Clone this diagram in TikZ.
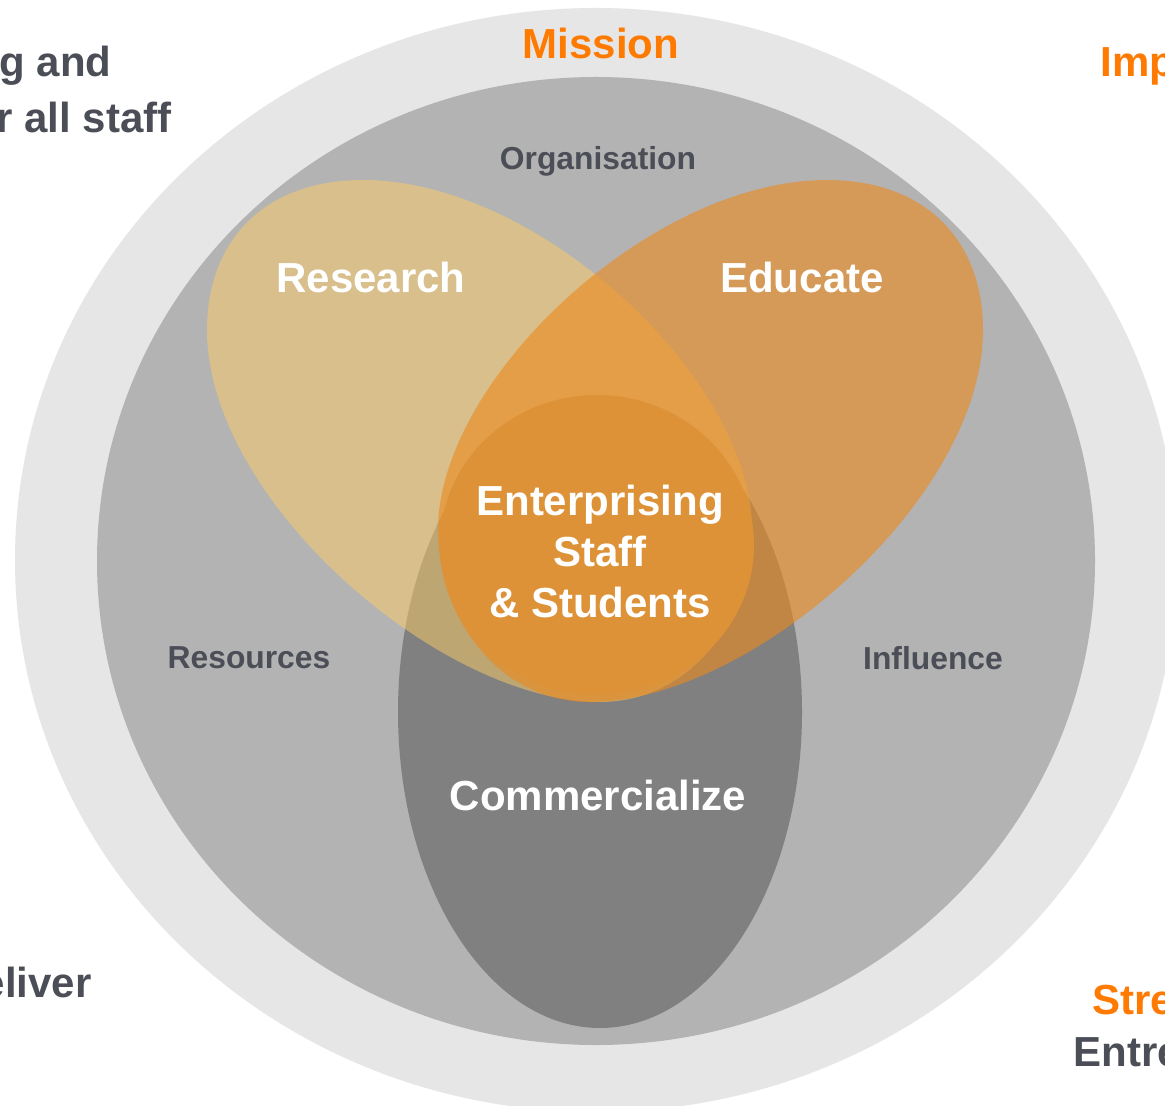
\documentclass[tikz,border=0pt]{standalone}
\usepackage{fontspec}
\setmainfont{Liberation Sans}
\definecolor{ring_outer}{HTML}{E6E6E6}
\definecolor{ring_mid}{HTML}{B3B3B3}
\definecolor{comm_gray}{HTML}{808080}
\definecolor{res_tan}{HTML}{FDCC66}
\definecolor{edu_orange}{HTML}{ED891C}
\definecolor{core_orange}{HTML}{DD9238}
\definecolor{txt_orange}{HTML}{FF7A00}
\definecolor{txt_gray}{HTML}{4B4E56}

\begin{document}
\begin{tikzpicture}[x=0.5pt,y=-0.5pt]
  \tikzstyle{big_lbl}   = [font=\fontsize{21}{25.5}\selectfont\bfseries, text=white, inner sep=0pt, align=center]
  \tikzstyle{small_lbl} = [font=\fontsize{15.9}{19}\selectfont\bfseries, text=txt_gray, inner sep=0pt]
  \tikzstyle{side_lbl}  = [font=\fontsize{21}{25.5}\selectfont\bfseries, inner sep=0pt]
  \tikzstyle{res_leaf}  = [fill=res_tan, fill opacity=0.5]
  \tikzstyle{edu_leaf}  = [fill=edu_orange, fill opacity=0.6]

  \useasboundingbox (0,0) rectangle (1165,1106);

  \fill[white] (0,0) rectangle (1165,1106);
  \fill[ring_outer] (596,560) ellipse [x radius=581, y radius=552];
  \fill[ring_mid]   (596,561) ellipse [x radius=499, y radius=484];
  \fill[comm_gray]  (600,712) ellipse [x radius=202, y radius=316];

  \path[res_leaf] (363,180) .. controls (265,180) and (207,240) .. (207,330)
    .. controls (207,500) and (440,702) .. (600,702)
    .. controls (690,702) and (752,620) .. (752,530)
    .. controls (752,380) and (540,180) .. (363,180) -- cycle;

  \path[edu_leaf] (827,180) .. controls (925,180) and (983,240) .. (983,330)
    .. controls (983,500) and (750,702) .. (590,702)
    .. controls (500,702) and (438,620) .. (438,530)
    .. controls (438,380) and (650,180) .. (827,180) -- cycle;

  \fill[core_orange] (597,545) ellipse [x radius=157, y radius=150];

  \node[side_lbl, text=txt_orange] at (601,43) (mission) {Mission};
  \node[small_lbl] at (598,161) (organisation) {Organisation};
  \node[big_lbl] at (371,277) (research) {Research};
  \node[big_lbl] at (802,277) (educate) {Educate};
  \node[big_lbl] at (600,551) (core) {Enterprising\\Staff\\\& Students};
  \node[small_lbl] at (249,658) (resources) {Resources};
  \node[small_lbl] at (933,658) (influence) {Influence};
  \node[big_lbl] at (598,795) (commercialize) {Commercialize};

  \node[side_lbl, text=txt_gray, anchor=east] at (112,66) (left_a) {g and};
  \node[side_lbl, text=txt_gray, anchor=east] at (172,117) (left_b) {r all staff};
  \node[side_lbl, text=txt_gray, anchor=east] at (92,982) (left_c) {eliver};
  \node[side_lbl, text=txt_orange, anchor=west] at (1100,66) (right_a) {Imp};
  \node[side_lbl, text=txt_orange, anchor=west] at (1092,1000) (right_b) {Stre};
  \node[side_lbl, text=txt_gray, anchor=west] at (1073,1052) (right_c) {Entre};
\end{tikzpicture}
\end{document}
